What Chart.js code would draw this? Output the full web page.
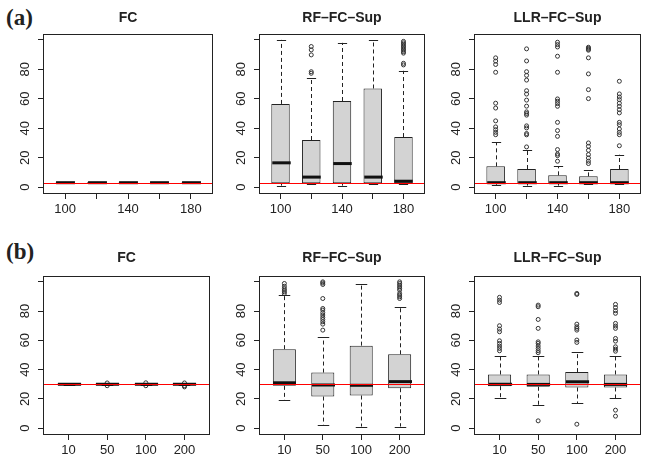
<!DOCTYPE html>
<html>
<head>
<meta charset="utf-8">
<script src="https://cdn.jsdelivr.net/npm/chart.js@4.4.1/dist/chart.umd.min.js"></script>
<style>
    html, body { margin: 0; padding: 0; background: #fff; }
    #wrap { position: relative; width: 646px; height: 461px; overflow: hidden; }
    #wrap canvas { position: absolute; }
    .tag { position: absolute; font: bold 23px "Liberation Serif", "DejaVu Serif", serif; line-height: 1; color: #222; }
</style>
</head>
<body>
<div id="wrap">
    <div class="tag" style="left:6px; top:6px">(a)</div>
    <div class="tag" style="left:6px; top:240px">(b)</div>
</div>
<script>
// x categories
const sizesA = ['100', '120', '140', '160', '180'];
const sizesB = ['10', '50', '100', '200'];
const shownA = ['100', '140', '180'];
const shownB = ['10', '50', '100', '200'];
const yTicks = [0, 20, 40, 60, 80, 100];

// reference (true) values, red lines
const refA = 3;
const refB = 30;

// box stats per group: [lower whisker, q1, median, q3, upper whisker]
const fcA = [[2.5, 2.7, 3, 3.3, 3.5], [2.5, 2.7, 3, 3.3, 3.5], [2.5, 2.7, 3, 3.3, 3.5], [2.5, 2.7, 3, 3.3, 3.5], [2.5, 2.7, 3, 3.3, 3.5]];
const fcAOut = [[], [], [], [], []];

const rfA = [[1, 2.7, 16.5, 56.5, 100], [1.8, 2.7, 6.8, 32, 74], [1, 2.7, 16, 58.5, 98], [1.8, 2.7, 6.8, 67, 100], [1.8, 2.7, 4, 34, 79]];
const rfAOut = [
    [],
    [95.5, 93.2, 89.8, 78.4, 77.3],
    [],
    [],
    [99, 98, 97, 96, 95, 94, 93, 92, 91, 84.1, 83]
];

const llrA = [[1.6, 2.3, 3, 14.1, 30.4], [1, 2.3, 3, 12.3, 25], [1, 2.3, 3, 8, 14.1], [2, 2.3, 3, 7.3, 11.4], [2, 2.3, 3, 12.3, 22]];
const llrAOut = [
    [87.8, 85.6, 83.3, 78, 57, 53.7, 45, 40.9, 39, 37.2, 35.6],
    [93.9, 85.7, 78.4, 75.9, 72.7, 65.5, 63.2, 59.1, 55, 51.1, 50, 48.9, 41.6, 40.2, 36.4, 35.5, 27.3],
    [98.4, 96.8, 95.2, 88.9, 78, 59.9, 58.3, 56.7, 54.9, 44, 38.4, 34.5, 25.5, 22.5, 21.4, 17.6],
    [95, 94.3, 93.6, 93, 87.8, 76.9, 66.2, 60.1, 30, 27.7, 25, 22.1, 19.8, 17.6, 16],
    [71.9, 63.3, 61.2, 59.4, 57, 54.9, 52.6, 50.4, 44, 42.4, 39.5, 37.2, 35.6, 28.1]
];

const fcB = [[29.5, 29.7, 30, 30.3, 30.5], [29.5, 29.7, 30, 30.3, 30.5], [29.5, 29.7, 30, 30.3, 30.5], [29.5, 29.7, 30, 30.3, 30.5]];
const fcBOut = [[], [29, 30.9], [29, 31], [28.2, 29, 30.9]];

const rfB = [[18.9, 28.9, 31, 54, 91], [2.3, 21.6, 29.5, 38, 62], [1.1, 22.3, 29.3, 56.4, 98.2], [1.1, 27.3, 31.8, 50.5, 83]];
const rfBOut = [
    [98.9, 97, 95.5, 94.3, 93.2, 92],
    [100, 99.2, 98.2, 88.6, 81.8, 80.7, 78.9, 77.3, 75.7, 74.3, 72.7, 71.1, 67],
    [],
    [100, 98.9, 97.7, 96.6, 95.5, 94.3, 92, 90.9, 89.8, 88.6]
];

const llrB = [[20.3, 28.7, 30, 36.7, 49], [15.8, 28.3, 29.9, 36.7, 49], [16.9, 27.8, 31.7, 38.3, 52.2], [20.3, 27.8, 29.9, 36.7, 49]];
const llrBOut = [
    [89.4, 87.5, 85.9, 70, 67.7, 65.9, 59.7, 57.9, 56.1, 54.5, 52.9],
    [84.1, 83, 74.3, 68.2, 59, 57.9, 56.1, 54.5, 52.9, 51.6, 5],
    [92.1, 91.4, 71.1, 69.3, 68.2, 67, 60.2, 58.6, 2.7],
    [84.6, 82.5, 80.3, 78.5, 71.6, 69.8, 68.2, 61.3, 59.5, 55.6, 54, 52.6, 12.3, 8.2]
];

const INK = '#222';
const FONT = 'Liberation Sans, Arial, Helvetica, sans-serif';

// whiskers, staples, medians, red reference line, frame and title
const boxParts = {
    id: 'boxParts',
    afterDraw(chart, args, opts) {
        const { ctx, chartArea: a } = chart;
        const x = chart.scales.x, y = chart.scales.y;
        const bars = chart.getDatasetMeta(0).data;
        ctx.save();
        opts.stats.forEach((s, i) => {
            const cx = Math.round(x.getPixelForValue(i + 1)) + 0.5;
            const w = bars[i].width;
            ctx.strokeStyle = INK;
            ctx.lineWidth = 1;
            // dashed whiskers
            ctx.setLineDash([4, 3]);
            ctx.beginPath();
            ctx.moveTo(cx, y.getPixelForValue(s[3]));
            ctx.lineTo(cx, y.getPixelForValue(s[4]));
            ctx.moveTo(cx, y.getPixelForValue(s[1]));
            ctx.lineTo(cx, y.getPixelForValue(s[0]));
            ctx.stroke();
            ctx.setLineDash([]);
            // staples
            ctx.beginPath();
            [s[0], s[4]].forEach(v => {
                const py = Math.round(y.getPixelForValue(v)) + 0.5;
                ctx.moveTo(cx - w / 4, py);
                ctx.lineTo(cx + w / 4, py);
            });
            ctx.stroke();
            // median
            ctx.lineWidth = 3;
            ctx.strokeStyle = '#111';
            ctx.beginPath();
            const my = y.getPixelForValue(s[2]);
            ctx.moveTo(cx - w / 2, my);
            ctx.lineTo(cx + w / 2, my);
            ctx.stroke();
        });
        // reference line
        const ry = Math.round(y.getPixelForValue(opts.ref)) + 0.5;
        ctx.strokeStyle = '#ff0000';
        ctx.lineWidth = 1.2;
        ctx.beginPath();
        ctx.moveTo(a.left, ry);
        ctx.lineTo(a.right, ry);
        ctx.stroke();
        // frame
        ctx.strokeStyle = INK;
        ctx.lineWidth = 1;
        ctx.strokeRect(a.left + 0.5, a.top + 0.5, a.right - a.left - 1, a.bottom - a.top);
        // title
        ctx.fillStyle = INK;
        ctx.font = 'bold 14px ' + FONT;
        ctx.textAlign = 'center';
        ctx.textBaseline = 'middle';
        ctx.fillText(opts.title, (a.left + a.right) / 2, opts.titleY);
        ctx.restore();
    }
};

function panel(p) {
    const wrap = document.getElementById('wrap');
    const cv = document.createElement('canvas');
    cv.width = p.w;
    cv.height = p.h;
    cv.style.left = p.left + 'px';
    cv.style.top = p.top + 'px';
    wrap.appendChild(cv);
    const n = p.cats.length;
    const pad = 0.04 * n;
    new Chart(cv, {
        type: 'bar',
        data: {
            datasets: [{
                type: 'bar',
                data: p.stats.map((s, i) => ({ x: i + 1, y: [s[1], s[3]] })),
                backgroundColor: '#d3d3d3',
                borderColor: INK,
                borderWidth: 1,
                borderSkipped: false,
                barPercentage: 0.6,
                categoryPercentage: 1,
                order: 2
            }, {
                type: 'scatter',
                data: p.outs.flatMap((arr, i) => arr.map(v => ({ x: i + 1, y: v }))),
                pointRadius: 2,
                pointBorderWidth: 1,
                pointBackgroundColor: 'rgba(0,0,0,0)',
                pointBorderColor: '#333',
                showLine: false,
                order: 1
            }]
        },
        options: {
            responsive: false,
            animation: false,
            layout: { padding: { top: p.padTop, right: p.padRight, bottom: 0, left: 0 } },
            plugins: {
                legend: { display: false },
                tooltip: { enabled: false },
                boxParts: { stats: p.stats, ref: p.ref, title: p.title, titleY: p.titleY }
            },
            scales: {
                x: {
                    type: 'linear',
                    min: 0.5 - pad,
                    max: n + 0.5 + pad,
                    offset: false,
                    afterBuildTicks: s => { s.ticks = p.cats.map((c, i) => ({ value: i + 1 })); },
                    afterFit: s => { s.height = p.xh; },
                    ticks: {
                        autoSkip: false,
                        maxRotation: 0,
                        padding: 3,
                        color: INK,
                        font: { family: FONT, size: 13 },
                        callback: v => p.shown.includes(p.cats[v - 1]) ? p.cats[v - 1] : ''
                    },
                    grid: { offset: false, drawOnChartArea: false, tickLength: 6, color: INK },
                    border: { display: false }
                },
                y: {
                    min: -4,
                    max: 104,
                    afterBuildTicks: s => { s.ticks = yTicks.map(v => ({ value: v })); },
                    afterFit: s => { s.width = p.yw; },
                    ticks: {
                        minRotation: 90,
                        maxRotation: 90,
                        crossAlign: 'center',
                        padding: 5,
                        color: INK,
                        font: { family: FONT, size: 13 },
                        callback: v => v === 100 ? '' : String(v)
                    },
                    grid: { offset: false, drawOnChartArea: false, tickLength: 5, color: INK },
                    border: { display: false }
                }
            }
        },
        plugins: [boxParts]
    });
}

const cols = [
    { left: 0, w: 215, yw: 43, padRight: 2 },
    { left: 215, w: 215, yw: 44, padRight: 1 },
    { left: 430, w: 216, yw: 44, padRight: 2 }
];
const rowA = { top: 0, h: 230, padTop: 34, xh: 37, titleY: 18, cats: sizesA, shown: shownA, ref: refA };
const rowB = { top: 230, h: 231, padTop: 46, xh: 27, titleY: 28, cats: sizesB, shown: shownB, ref: refB };

panel(Object.assign({}, rowA, cols[0], { title: 'FC', stats: fcA, outs: fcAOut }));
panel(Object.assign({}, rowA, cols[1], { title: 'RF–FC–Sup', stats: rfA, outs: rfAOut }));
panel(Object.assign({}, rowA, cols[2], { title: 'LLR–FC–Sup', stats: llrA, outs: llrAOut }));
panel(Object.assign({}, rowB, cols[0], { title: 'FC', stats: fcB, outs: fcBOut }));
panel(Object.assign({}, rowB, cols[1], { title: 'RF–FC–Sup', stats: rfB, outs: rfBOut }));
panel(Object.assign({}, rowB, cols[2], { title: 'LLR–FC–Sup', stats: llrB, outs: llrBOut }));
</script>
</body>
</html>
